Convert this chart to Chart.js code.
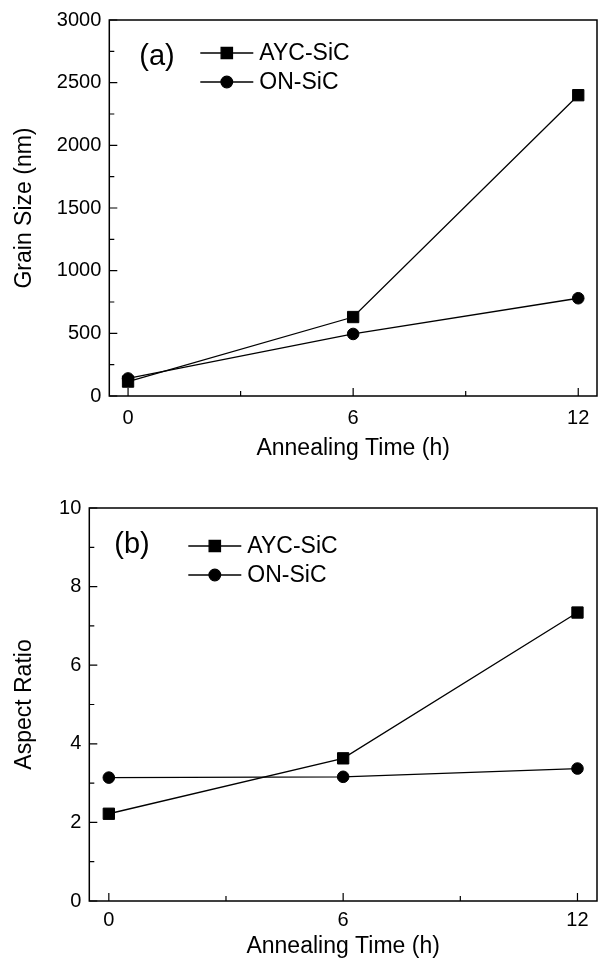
<!DOCTYPE html>
<html>
<head>
<meta charset="utf-8">
<script src="https://cdn.jsdelivr.net/npm/chart.js@4.4.0/dist/chart.umd.min.js"></script>
<style>
    html, body { margin: 0; padding: 0; background: #fff; }
    #wrap { position: relative; width: 606px; height: 970px; }
    canvas { position: absolute; left: 0; }
</style>
</head>
<body>
<div id="wrap">
    <canvas id="chartA" width="606" height="470" style="top:0"></canvas>
    <canvas id="chartB" width="606" height="500" style="top:470px"></canvas>
</div>
<script>
// --- data ---
const hours = [0, 6, 12];
const hourTicks = [0, 6, 12];
const seriesNames = ['AYC-SiC', 'ON-SiC'];

const grainAYC = [115, 630, 2400];
const grainON = [140, 495, 780];
const grainTicks = [0, 500, 1000, 1500, 2000, 2500, 3000];

const aspectAYC = [2.22, 3.63, 7.34];
const aspectON = [3.14, 3.16, 3.37];
const aspectTicks = [0, 2, 4, 6, 8, 10];

const FONT = "'Liberation Sans', Arial, sans-serif";

// box, inward ticks, in-plot legend and panel letter
const framePlugin = {
    id: 'frame',
    afterDraw(chart, args, opts) {
        const { ctx, chartArea: a, scales: { x, y } } = chart;
        ctx.save();
        ctx.strokeStyle = '#000';
        ctx.lineWidth = 1.5;
        ctx.strokeRect(a.left, a.top, a.right - a.left, a.bottom - a.top);

        ctx.lineWidth = 1.2;
        ctx.beginPath();
        const xt = x.ticks.map(t => t.value);
        xt.forEach((v, i) => {
            const px = x.getPixelForValue(v);
            ctx.moveTo(px, a.bottom); ctx.lineTo(px, a.bottom - 8);
            if (i < xt.length - 1) {
                const m = x.getPixelForValue((v + xt[i + 1]) / 2);
                ctx.moveTo(m, a.bottom); ctx.lineTo(m, a.bottom - 5);
            }
        });
        const yt = y.ticks.map(t => t.value);
        yt.forEach((v, i) => {
            const py = y.getPixelForValue(v);
            ctx.moveTo(a.left, py); ctx.lineTo(a.left + 8, py);
            if (i < yt.length - 1) {
                const m = y.getPixelForValue((v + yt[i + 1]) / 2);
                ctx.moveTo(a.left, m); ctx.lineTo(a.left + 5, m);
            }
        });
        ctx.stroke();

        // panel letter
        ctx.fillStyle = '#000';
        ctx.font = `29px ${FONT}`;
        ctx.textBaseline = 'middle';
        ctx.textAlign = 'left';
        ctx.fillText(opts.label, a.left + opts.labelX, a.top + opts.labelY);

        // legend
        ctx.font = `23px ${FONT}`;
        chart.data.datasets.forEach((ds, i) => {
            const ly = a.top + opts.legendY + i * opts.legendGap;
            const x0 = a.left + opts.legendX;
            const x1 = x0 + 53;
            ctx.lineWidth = 1.3;
            ctx.beginPath();
            ctx.moveTo(x0, ly); ctx.lineTo(x1, ly);
            ctx.stroke();
            ctx.fillStyle = '#000';
            Chart.helpers.drawPoint(ctx, {
                pointStyle: ds.pointStyle, rotation: 0,
                radius: ds.pointRadius, borderWidth: 1
            }, (x0 + x1) / 2, ly);
            ctx.fillText(ds.label, x1 + 6, ly + 1);
        });
        ctx.restore();
    }
};

function makeDatasets(a, b) {
    return [
        {
            label: seriesNames[0], data: hours.map((h, i) => ({ x: h, y: a[i] })),
            borderColor: '#000', backgroundColor: '#000', borderWidth: 1.3,
            pointStyle: 'rect', pointRadius: 8, pointBorderWidth: 1, tension: 0
        },
        {
            label: seriesNames[1], data: hours.map((h, i) => ({ x: h, y: b[i] })),
            borderColor: '#000', backgroundColor: '#000', borderWidth: 1.3,
            pointStyle: 'circle', pointRadius: 5.8, pointBorderWidth: 1, tension: 0
        }
    ];
}

function makeChart(el, cfg) {
    return new Chart(el, {
        type: 'line',
        data: { datasets: makeDatasets(cfg.a, cfg.b) },
        options: {
            responsive: false,
            animation: false,
            clip: false,
            layout: { padding: { top: cfg.padTop, right: 6, left: 0, bottom: 0 } },
            plugins: {
                legend: { display: false },
                tooltip: { enabled: false },
                frame: cfg.frame
            },
            scales: {
                x: {
                    type: 'linear', min: -0.5, max: 12.5,
                    grid: { display: false, drawTicks: false },
                    border: { display: false },
                    afterBuildTicks: s => { s.ticks = hourTicks.map(v => ({ value: v })); },
                    afterFit: s => { s.height = cfg.xHeight; },
                    ticks: {
                        color: '#000', padding: cfg.xTickPad, font: { family: FONT, size: 20 },
                        callback: v => String(v)
                    },
                    title: {
                        display: true, text: 'Annealing Time (h)', color: '#000',
                        padding: { top: 0, bottom: cfg.xTitlePad },
                        font: { family: FONT, size: 23 }
                    }
                },
                y: {
                    min: cfg.ticks[0], max: cfg.ticks[cfg.ticks.length - 1],
                    grid: { display: false, drawTicks: false },
                    border: { display: false },
                    afterBuildTicks: s => { s.ticks = cfg.ticks.map(v => ({ value: v })); },
                    afterFit: s => { s.width = cfg.yWidth; },
                    ticks: {
                        color: '#000', padding: 8, font: { family: FONT, size: 20 },
                        callback: v => String(v)
                    },
                    title: {
                        display: true, text: cfg.yTitle, color: '#000',
                        padding: { top: 11, bottom: 0 },
                        font: { family: FONT, size: 23 }
                    }
                }
            }
        },
        plugins: [framePlugin]
    });
}

makeChart(document.getElementById('chartA'), {
    a: grainAYC, b: grainON, ticks: grainTicks, yTitle: 'Grain Size (nm)',
    padTop: 19, xHeight: 74, yWidth: 109.3, xTickPad: 10, xTitlePad: 8,
    frame: { label: '(a)', labelX: 30, labelY: 37, legendX: 91, legendY: 33, legendGap: 29 }
});

makeChart(document.getElementById('chartB'), {
    a: aspectAYC, b: aspectON, ticks: aspectTicks, yTitle: 'Aspect Ratio',
    padTop: 38, xHeight: 69, yWidth: 89.3, xTickPad: 7, xTitlePad: 10,
    frame: { label: '(b)', labelX: 25, labelY: 37, legendX: 99, legendY: 38, legendGap: 29 }
});
</script>
</body>
</html>
